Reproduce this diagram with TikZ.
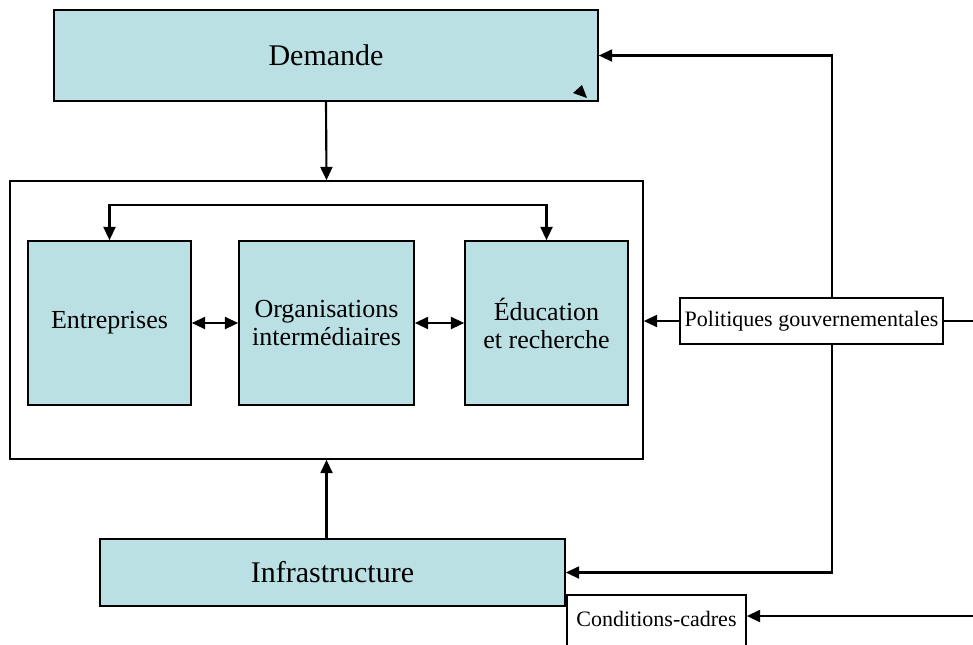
\documentclass[tikz,border=0pt]{standalone}
\usepackage{fontspec}
\setmainfont{Liberation Serif}
\usetikzlibrary{arrows.meta}
\definecolor{boxteal}{RGB}{187,224,227}
\begin{document}
\begin{tikzpicture}[x=0.75pt, y=-0.75pt, >={Triangle[length=10pt,width=9pt]},
  b/.style={draw, line width=1.2pt, align=center, inner sep=0pt},
  t/.style={b, fill=boxteal},
  big/.style={font=\fontsize{22.5}{26}\selectfont},
  mid/.style={font=\fontsize{19.5}{21}\selectfont},
  sm/.style={font=\fontsize{16.5}{19}\selectfont},
  l/.style={line width=1.6pt},
  a/.style={l, ->}]
  \useasboundingbox (0,0) rectangle (973,644);
  \clip (0,0) rectangle (973,644);
  \node[t, big, minimum width=408pt, minimum height=68.25pt] (dem) at (326,55.5) {Demande};
  \fill (573,93) -- (582,85) -- (587,98) -- cycle;
  \node[b, minimum width=474.75pt, minimum height=208.5pt] (sys) at (326.5,320) {};
  \node[t, mid, minimum width=122.25pt, minimum height=123pt] (ent) at (109.5,323) {Entreprises};
  \node[t, mid, minimum width=131.25pt, minimum height=123pt] (org) at (326.5,323) {Organisations\\intermédiaires};
  \node[t, mid, minimum width=122.25pt, minimum height=123pt] (edu) at (546.5,323) {Éducation\\et recherche};
  \node[b, sm, fill=white, minimum width=197.25pt, minimum height=34.5pt] (pol) at (811.5,321) {Politiques gouvernementales};
  \node[t, big, minimum width=348.75pt, minimum height=50.25pt] (inf) at (332.5,572.5) {Infrastructure};
  \node[b, sm, anchor=north, minimum width=134.25pt, text height=24pt, text depth=24pt] (cad) at (656.5,594) {Conditions-cadres};
  \coordinate (tr) at (832,321);
  \coordinate (re) at (973,321);
  \coordinate (rc) at (973,616);
  \draw[a] (dem.south) -- (sys.north);
  \draw[l, <->] (ent.north) -- ++(0,-35) -| (edu.north);
  \draw[l, <->] (ent.east) -- (org.west);
  \draw[l, <->] (org.east) -- (edu.west);
  \draw[a] (pol.west) -- (pol.west -| sys.east);
  \draw[l] (pol.east) -- (re);
  \draw[a] (tr |- pol.north) |- (dem.east);
  \draw[a] (tr |- pol.south) |- (inf.east);
  \draw[a] (sys.south |- inf.north) -- (sys.south);
  \draw[a] (rc) -- (rc -| cad.east);
\end{tikzpicture}
\end{document}
